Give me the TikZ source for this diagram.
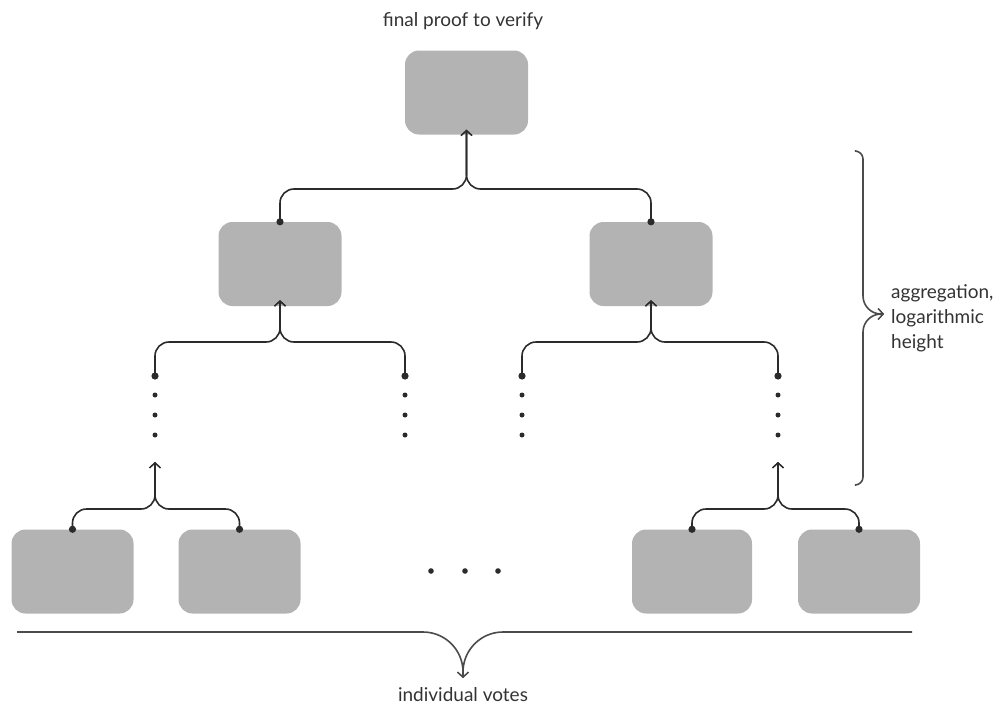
\documentclass[tikz,border=0pt]{standalone}
\usepackage{fontspec}
\setmainfont{Lato}
\usetikzlibrary{arrows.meta}
\definecolor{boxgray}{HTML}{B3B3B3}
\definecolor{ink}{HTML}{2B2B2B}
\definecolor{textgray}{HTML}{333333}
\begin{document}
\begin{tikzpicture}[x=1pt,y=-1pt,
  proof/.style={fill=boxgray, rounded corners=14pt, inner sep=0pt,
    minimum width=123pt, minimum height=84pt},
  conn/.style={draw=ink, line width=1.6pt, rounded corners=14pt,
    -{Straight Barb[length=5pt,width=11pt,line width=1.3pt]}},
  brace/.style={draw=ink!85, line width=1.6pt,
    -{Straight Barb[length=5pt,width=11pt,line width=1.3pt]}},
  leaf/.style={fill=ink},
  lbl/.style={text=textgray, font=\fontsize{19}{25}\selectfont, inner sep=0pt}]

% canvas
\useasboundingbox (0,0) rectangle (1003,704);

% proof boxes
\node[proof] (top) at (466.5,92.5) {};
\node[proof] (ml)  at (280,264) {};
\node[proof] (mr)  at (651,264) {};
\node[proof, minimum width=122pt] (b1) at (72.5,571.5) {};
\node[proof, minimum width=122pt] (b2) at (239.5,571.5) {};
\node[proof, minimum width=120pt] (b3) at (692,571.5) {};
\node[proof, minimum width=122pt] (b4) at (859,571.5) {};

% ends of the elided columns
\coordinate (cl1) at (155,376);
\coordinate (cl2) at (405,376);
\coordinate (cr1) at (522,376);
\coordinate (cr2) at (778,376);
\coordinate (el) at (155,462);
\coordinate (er) at (778,462);

% junction points
\coordinate (jt) at (466.5,189);
\coordinate (jl) at (280,342);
\coordinate (jr) at (651,342);
\coordinate (jbl) at (155,509);
\coordinate (jbr) at (778,509);

% aggregation connectors
\draw[conn] (ml.north) |- (jt) -- ([yshift=5pt]top.south);
\draw[conn] (mr.north) |- (jt) -- ([yshift=5pt]top.south);
\draw[conn] (cl1) |- (jl) -- ([yshift=6pt]ml.south);
\draw[conn] (cl2) |- (jl) -- ([yshift=6pt]ml.south);
\draw[conn] (cr1) |- (jr) -- ([yshift=6pt]mr.south);
\draw[conn] (cr2) |- (jr) -- ([yshift=6pt]mr.south);
\draw[conn] (b1.north) |- (jbl) -- (el);
\draw[conn] (b2.north) |- (jbl) -- (el);
\draw[conn] (b3.north) |- (jbr) -- (er);
\draw[conn] (b4.north) |- (jbr) -- (er);

% connector start dots
\foreach \p in {ml.north, mr.north, b1.north, b2.north, b3.north, b4.north, cl1, cl2, cr1, cr2}
  \fill[leaf] (\p) circle (3.6pt);

% vertical ellipses
\foreach \x in {155,405,522,778}
  \foreach \y in {395,415,435}
    \fill[leaf] (\x,\y) circle (2.5pt);

% horizontal ellipsis between the leaf pairs
\foreach \x in {431,465,498}
  \fill[leaf] (\x,571) circle (2.8pt);

% brace under the leaves
\coordinate (vt) at (463,678);
\draw[brace, rounded corners=40pt] (17,632) -| (vt);
\draw[brace, rounded corners=40pt] (912,632) -| (vt);

% brace beside the aggregation levels
\coordinate (at) at (884,314);
\draw[brace] [rounded corners=8pt] (856,151) -| (863,250) [rounded corners=18pt] |- (at);
\draw[brace] [rounded corners=8pt] (856,485) -| (863,380) [rounded corners=18pt] |- (at);

% labels
\node[lbl, anchor=base] (ttop) at (463,26) {final proof to verify};
\node[lbl, anchor=base] (tbot) at (463,701) {individual votes};
\node[lbl, anchor=base west, align=left] (tagg) at (891,348)
  {aggregation,\\logarithmic\\height};
\end{tikzpicture}
\end{document}
